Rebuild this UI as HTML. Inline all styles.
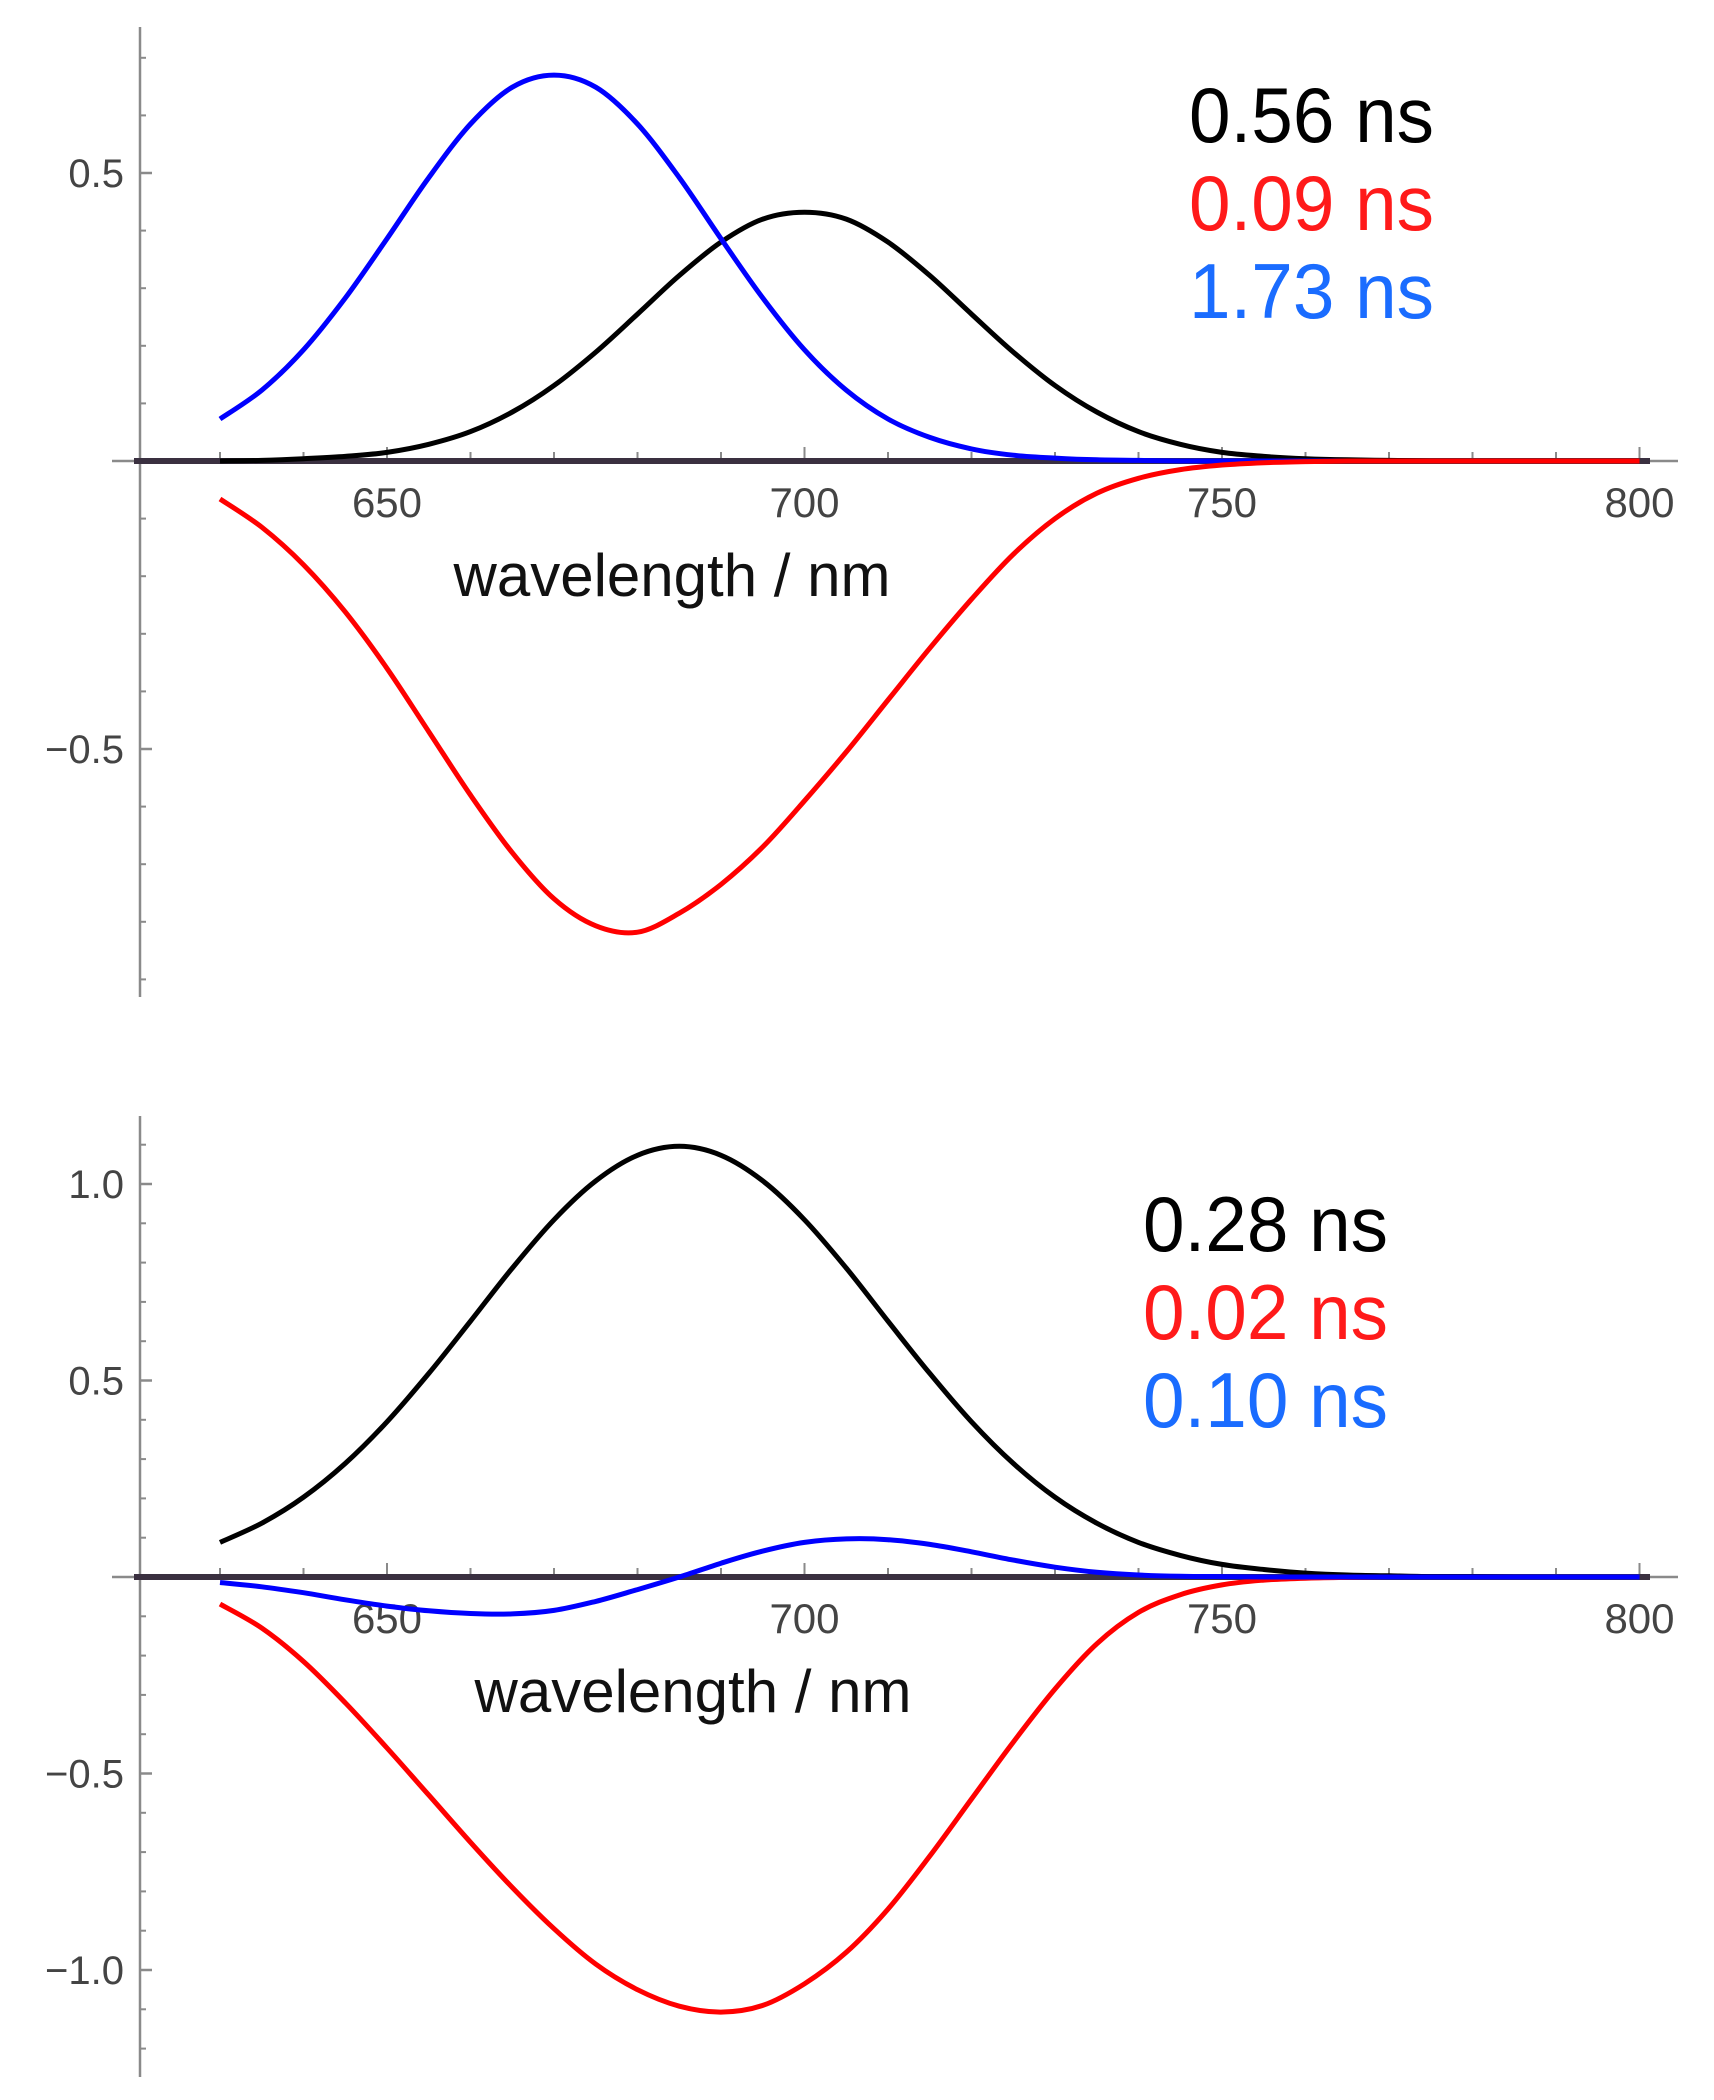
<!DOCTYPE html>
<html><head><meta charset="utf-8"><style>
html,body{margin:0;padding:0;background:#fff;}
svg{display:block;}
</style></head><body>
<svg id="chart" width="1714" height="2100" viewBox="0 0 1714 2100" xmlns="http://www.w3.org/2000/svg">
<g id="p1"></g>
<g id="p2"></g>
</svg>
<script>
// shared wavelength grid (nm)
const wavelengths = [630,635,640,645,650,655,660,665,670,675,680,685,690,695,700,705,710,715,720,725,730,735,740,745,750,755,760,765,770,775,780,785,790,795,800];
const xTicks = [650,700,750,800];
const xTickLabels = ["650","700","750","800"];

// top panel series
const topBlack = [0.000,0.001,0.004,0.008,0.015,0.029,0.051,0.085,0.131,0.189,0.255,0.322,0.380,0.420,0.432,0.420,0.380,0.322,0.255,0.189,0.131,0.085,0.051,0.029,0.015,0.008,0.004,0.002,0.001,0,0,0,0,0,0];
const topRed = [-0.066,-0.115,-0.18,-0.262,-0.36,-0.47,-0.58,-0.68,-0.76,-0.807,-0.818,-0.785,-0.735,-0.67,-0.59,-0.505,-0.415,-0.325,-0.24,-0.162,-0.10,-0.056,-0.03,-0.015,-0.007,-0.003,-0.001,0,0,0,0,0,0,0,0];
const topBlue = [0.073,0.123,0.193,0.283,0.386,0.492,0.585,0.649,0.670,0.649,0.585,0.492,0.386,0.283,0.193,0.123,0.073,0.041,0.021,0.010,0.005,0.002,0.001,0,0,0,0,0,0,0,0,0,0,0,0];
const topYTicks = [0.5,-0.5];
const topYTickLabels = ["0.5","\u22120.5"];
const topLegend = ["0.56 ns","0.09 ns","1.73 ns"];

// bottom panel series
const botBlack = [0.088,0.137,0.203,0.289,0.395,0.518,0.651,0.786,0.909,1.008,1.073,1.096,1.073,1.008,0.909,0.786,0.651,0.518,0.395,0.289,0.203,0.137,0.088,0.055,0.032,0.019,0.010,0.005,0.003,0.001,0.001,0,0,0,0];
const botRed = [-0.069,-0.13,-0.215,-0.32,-0.435,-0.555,-0.675,-0.79,-0.895,-0.985,-1.05,-1.092,-1.107,-1.09,-1.035,-0.955,-0.845,-0.71,-0.565,-0.42,-0.285,-0.17,-0.09,-0.045,-0.02,-0.008,-0.003,-0.001,0,0,0,0,0,0,0];
const botBlue = [-0.014,-0.025,-0.040,-0.058,-0.074,-0.086,-0.093,-0.094,-0.085,-0.062,-0.032,0.000,0.035,0.066,0.088,0.097,0.095,0.083,0.064,0.043,0.025,0.012,0.005,0.002,0.001,0,0,0,0,0,0,0,0,0,0];
const botYTicks = [1.0,0.5,-0.5,-1.0];
const botYTickLabels = ["1.0","0.5","\u22120.5","\u22121.0"];
const botLegend = ["0.28 ns","0.02 ns","0.10 ns"];

const NS="http://www.w3.org/2000/svg";
function mk(parent,tag,attrs){const e=document.createElementNS(NS,tag);for(const k in attrs)e.setAttribute(k,attrs[k]);parent.appendChild(e);return e;}
function xScale(w){return 387+(w-650)*8.35;}

function smoothPath(pts){
  let d="M"+pts[0][0].toFixed(1)+","+pts[0][1].toFixed(1);
  for(let i=0;i<pts.length-1;i++){
    const p0=pts[Math.max(0,i-1)],p1=pts[i],p2=pts[i+1],p3=pts[Math.min(pts.length-1,i+2)];
    const c1x=p1[0]+(p2[0]-p0[0])/6,c1y=p1[1]+(p2[1]-p0[1])/6;
    const c2x=p2[0]-(p3[0]-p1[0])/6,c2y=p2[1]-(p3[1]-p1[1])/6;
    d+=" C"+c1x.toFixed(1)+","+c1y.toFixed(1)+" "+c2x.toFixed(1)+","+c2y.toFixed(1)+" "+p2[0].toFixed(1)+","+p2[1].toFixed(1);
  }
  return d;
}

function panel(g,cfg){
  const yS=v=>cfg.zero-v*cfg.unit;
  const ya=mk(g,"line",{x1:140,y1:cfg.yTop,x2:140,y2:cfg.yBot,stroke:"#8a8a8a","stroke-width":2.5});
  
  
  for(let v=cfg.yMin;v<=cfg.yMax+1e-9;v+=0.1){
    const y=yS(v); if(y<cfg.yTop||y>cfg.yBot) continue;
    const t=mk(g,"line",{x1:140,y1:y,x2:146,y2:y,stroke:"#8a8a8a","stroke-width":2});
    
    
  }
  cfg.yTicks.forEach((v,i)=>{
    const y=yS(v);
    const t=mk(g,"line",{x1:140,y1:y,x2:152,y2:y,stroke:"#8a8a8a","stroke-width":2.5});
    
    
    const lb=mk(g,"text",{x:124,y:y+14,"text-anchor":"end","font-family":"Liberation Sans Narrow, Liberation Sans, sans-serif","font-size":40,fill:"#444"});
    lb.textContent=cfg.yTickLabels[i];
    
    
  });
  const xa=mk(g,"line",{x1:112,y1:cfg.zero,x2:1678,y2:cfg.zero,stroke:"#8a8a8a","stroke-width":2.5});
  
  
  for(let w=630;w<=800;w+=10){
    const x=xScale(w); const major=(w%50===0);
    const t=mk(g,"line",{x1:x,y1:cfg.zero,x2:x,y2:cfg.zero-(major?14:9),stroke:"#8a8a8a","stroke-width":2});
    
    
  }
  xTicks.forEach((w,i)=>{
    const lb=mk(g,"text",{x:xScale(w),y:cfg.zero+56,"text-anchor":"middle","font-family":"Liberation Sans Narrow, Liberation Sans, sans-serif","font-size":42,fill:"#444"});
    lb.textContent=xTickLabels[i];
    
    
  });
  const xl=mk(g,"text",{x:cfg.labelX,y:cfg.zero+135,"text-anchor":"middle","font-family":"Liberation Sans Narrow, Liberation Sans, sans-serif","font-size":60,fill:"#111",textLength:437,lengthAdjust:"spacingAndGlyphs"});
  xl.textContent="wavelength / nm";
  
  
  const bl=mk(g,"line",{x1:134,y1:cfg.zero,x2:1650,y2:cfg.zero,stroke:"#3a3040","stroke-width":6});
  
  
  const series=[[cfg.black,"#000000","black-series"],[cfg.red,"#ff0000","red-series"],[cfg.blue,"#0000ff","blue-series"]];
  cfg.order.forEach(idx=>{
    const s=series[idx];
    const pts=wavelengths.map((w,i)=>[xScale(w),yS(s[0][i])]);
    const p=mk(g,"path",{d:smoothPath(pts),fill:"none",stroke:s[1],"stroke-width":5,"stroke-linejoin":"round"});
    
    
  });
  const cols=["#000000","#ff1a1a","#1a6cff"];
  const names=["legend-entry-black","legend-entry-red","legend-entry-blue"];
  cfg.legend.forEach((txt,i)=>{
    const t=mk(g,"text",{x:cfg.legX,y:cfg.legY+i*88,"font-family":"Liberation Sans, sans-serif","font-size":78,fill:cols[i],textLength:cfg.legW,lengthAdjust:"spacingAndGlyphs"});
    t.textContent=txt;
    
    
  });
}

panel(document.getElementById("p1"),{zero:461,unit:576,yTop:27,yBot:997,yMin:-0.9,yMax:0.8,
  yTicks:topYTicks,yTickLabels:topYTickLabels,black:topBlack,red:topRed,blue:topBlue,order:[0,2,1],
  legend:topLegend,legX:1189,legY:142,legW:245,labelX:672});
panel(document.getElementById("p2"),{zero:1577,unit:393,yTop:1116,yBot:2077,yMin:-1.2,yMax:1.2,
  yTicks:botYTicks,yTickLabels:botYTickLabels,black:botBlack,red:botRed,blue:botBlue,order:[0,1,2],
  legend:botLegend,legX:1143,legY:1251,legW:245,labelX:693});
</script>
</body></html>
